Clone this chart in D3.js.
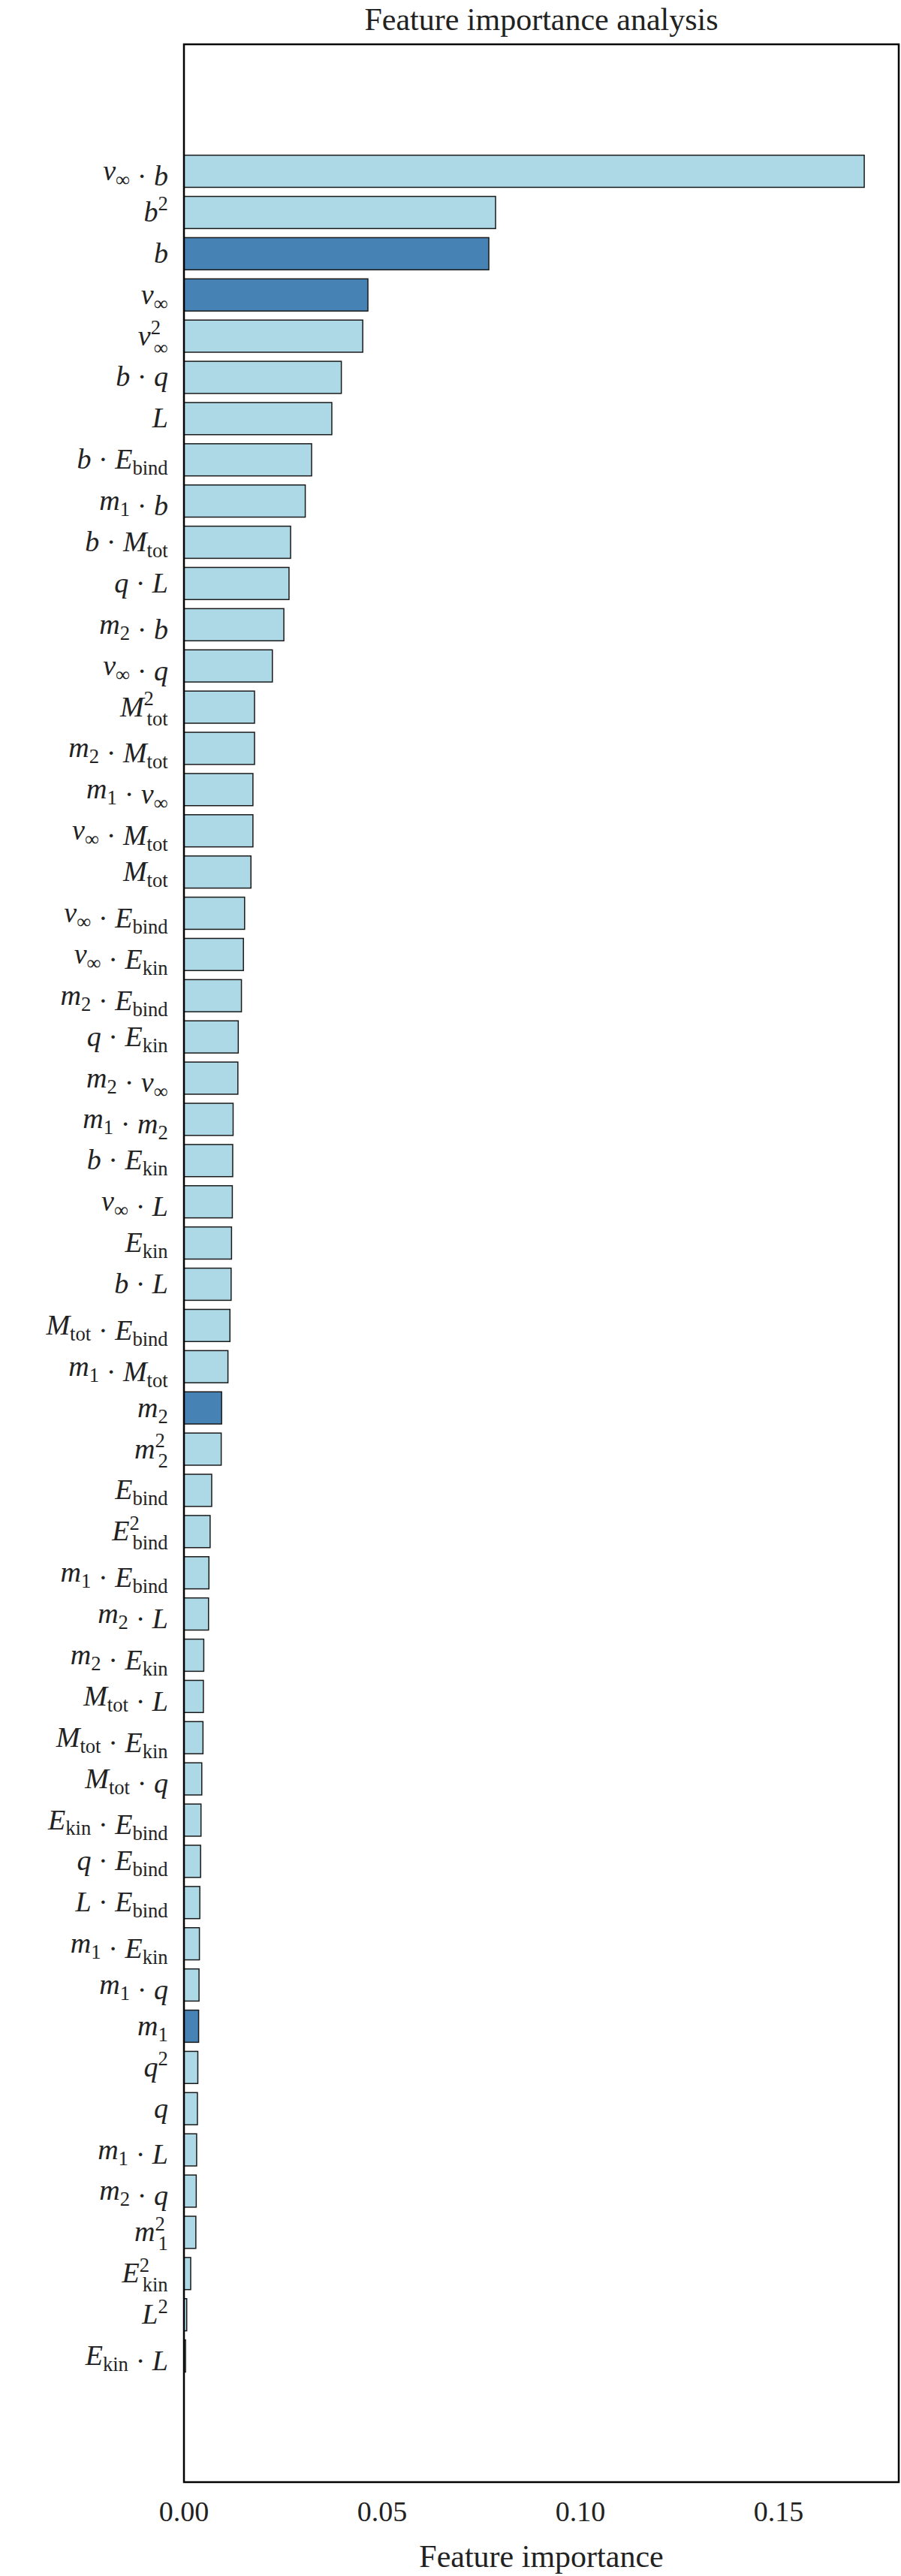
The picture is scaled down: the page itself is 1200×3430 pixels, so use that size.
<!DOCTYPE html>
<html><head><meta charset="utf-8">
<script src="https://cdn.jsdelivr.net/npm/d3@7"></script>
<style>body{margin:0;background:#fff}</style></head>
<body><svg id="c" width="1200" height="3430"></svg>
<script>
const features = ["v_∞·b","b^2","b","v_∞","v_∞^2","b·q","L","b·E_bind","m_1·b","b·M_tot","q·L","m_2·b","v_∞·q","M_tot^2","m_2·M_tot","m_1·v_∞","v_∞·M_tot","M_tot","v_∞·E_bind","v_∞·E_kin","m_2·E_bind","q·E_kin","m_2·v_∞","m_1·m_2","b·E_kin","v_∞·L","E_kin","b·L","M_tot·E_bind","m_1·M_tot","m_2","m_2^2","E_bind","E_bind^2","m_1·E_bind","m_2·L","m_2·E_kin","M_tot·L","M_tot·E_kin","M_tot·q","E_kin·E_bind","q·E_bind","L·E_bind","m_1·E_kin","m_1·q","m_1","q^2","q","m_1·L","m_2·q","m_1^2","E_kin^2","L^2","E_kin·L"];
const importance = [0.1716,0.0786,0.0769,0.0464,0.0451,0.0397,0.0373,0.0322,0.0306,0.0269,0.0265,0.0252,0.0223,0.0178,0.0178,0.0174,0.0174,0.0169,0.0153,0.0150,0.0145,0.0137,0.0136,0.0124,0.0123,0.0122,0.0120,0.0119,0.0116,0.0111,0.0095,0.0094,0.0070,0.0066,0.0063,0.0062,0.0050,0.0049,0.0048,0.0045,0.0043,0.0042,0.0040,0.0039,0.0038,0.0037,0.0035,0.0034,0.0032,0.0031,0.0030,0.0017,0.0007,0.0004];
const primary = ["b","v_∞","m_2","m_1"];
const xTicks = [0,0.05,0.10,0.15];

const svg = d3.select("#c");
const L=245,R=1197,T=59,B=3305;
const font="'Liberation Serif','DejaVu Serif',serif";
const x=d3.scaleLinear().domain([0,0.1803]).range([L,R]);
const n=features.length;
const y=d3.scaleLinear().domain([-3.08,n-1+3.06]).range([T,B]);
const bh=(y(1)-y(0))*0.78;

svg.selectAll("rect.bar").data(features).join("rect")
 .attr("x",x(0)).attr("y",(d,i)=>y(i)-bh/2).attr("height",bh)
 .attr("width",(d,i)=>x(importance[i])-x(0))
 .attr("fill",d=>primary.includes(d)?"#4682b4":"#add8e6")
 .attr("stroke","#1a1a1a").attr("stroke-width",1.5);

svg.append("rect").attr("x",L).attr("y",T).attr("width",R-L).attr("height",B-T)
 .attr("fill","none").attr("stroke","#000").attr("stroke-width",2.5);

// labels
function addLabel(g,s){
  const terms=s.split("·");
  terms.forEach((t,k)=>{
    if(k>0) g.append("tspan").attr("font-style","normal").text(" · ");
    const m=t.match(/^([A-Za-z])(?:_([^\^]+))?(?:\^(\d))?$/);
    g.append("tspan").attr("font-style","italic").text(m[1]);
    let sub=m[2],sup=m[3];
    if(sub&&sup){
      const sp=g.append("tspan").attr("font-size","0.7em").attr("dy","-0.55em").attr("font-style","normal").text(sup);
      const len=sup.length*0.7*0.5;
      g.append("tspan").attr("font-size","0.7em").attr("dx",(-len)+"em").attr("dy","1.0em").attr("font-style",/^\d$|∞/.test(sub)?"normal":"normal").text(sub);
      g.append("tspan").attr("font-size","0.1em").attr("dy","-0.45em").text("\u200a");
    } else if(sub){
      g.append("tspan").attr("font-size","0.7em").attr("dy","0.3em").attr("font-style","normal").text(sub);
      g.append("tspan").attr("font-size","0.1em").attr("dy","-0.3em").text("\u200a");
    } else if(sup){
      g.append("tspan").attr("font-size","0.7em").attr("dy","-0.55em").attr("font-style","normal").text(sup);
      g.append("tspan").attr("font-size","0.1em").attr("dy","0.55em").text("\u200a");
    }
  });
}
features.forEach((f,i)=>{
  const t=svg.append("text").attr("x",224).attr("y",y(i)+12).attr("text-anchor","end")
   .attr("font-family",font).attr("font-size",38).attr("fill","#222");
  addLabel(t,f);
});

svg.selectAll("text.tick").data(xTicks).join("text").attr("class","tick")
 .attr("x",d=>x(d)).attr("y",3357).attr("text-anchor","middle")
 .attr("font-family",font).attr("font-size",38).attr("fill","#222").text(d=>d3.format(".2f")(d));

svg.append("text").attr("x",(L+R)/2).attr("y",3418).attr("text-anchor","middle")
 .attr("font-family",font).attr("font-size",42).attr("fill","#222").text("Feature importance");
svg.append("text").attr("x",(L+R)/2).attr("y",40).attr("text-anchor","middle")
 .attr("font-family",font).attr("font-size",42).attr("fill","#222").text("Feature importance analysis");
</script></body></html>
